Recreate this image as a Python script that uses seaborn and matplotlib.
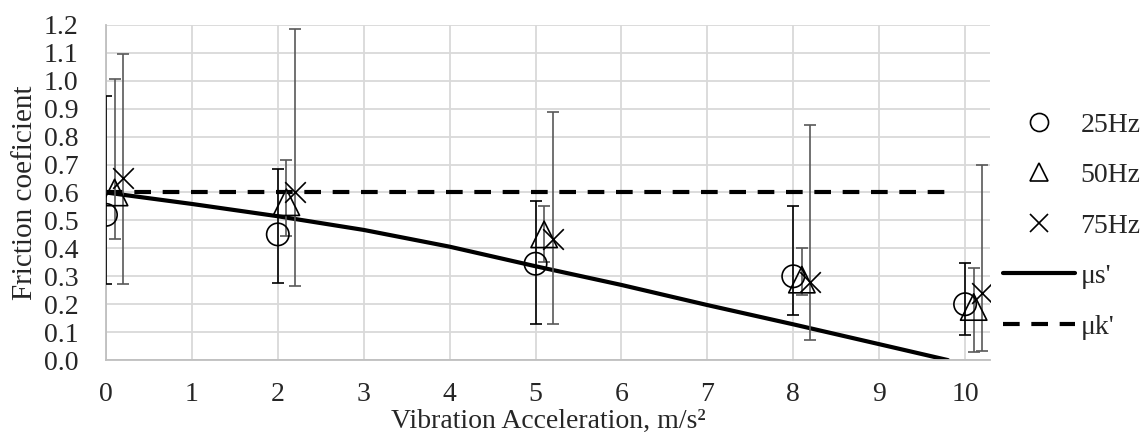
import numpy as np
import pandas as pd
import matplotlib
matplotlib.use("Agg")
import matplotlib.pyplot as plt
import seaborn as sns
from matplotlib.lines import Line2D

# measured friction coefficient (mean, lower and upper end of the error bar)
accel = [0, 2, 5, 8, 10]

mu_25 = [0.52, 0.45, 0.345, 0.30, 0.20]
lo_25 = [0.272, 0.276, 0.130, 0.161, 0.091]
hi_25 = [0.944, 0.683, 0.571, 0.552, 0.349]

mu_50 = [0.60, 0.565, 0.45, 0.288, 0.19]
lo_50 = [0.433, 0.444, 0.35, 0.234, 0.030]
hi_50 = [1.006, 0.717, 0.552, 0.400, 0.330]

mu_75 = [0.651, 0.603, 0.432, 0.28, 0.239]
lo_75 = [0.272, 0.265, 0.130, 0.072, 0.033]
hi_75 = [1.095, 1.186, 0.889, 0.840, 0.699]

# theoretical curves
mus_x = [0, 1, 2, 3, 4, 5, 6, 7, 8, 9, 9.8]
mus_y = [0.60, 0.559, 0.515, 0.466, 0.406, 0.336, 0.269, 0.197, 0.128, 0.057, 0.0]
muk_x = [0, 9.8]
muk_y = [0.60, 0.60]

sns.set_style("white")
plt.rcParams["font.family"] = ["Liberation Serif", "DejaVu Serif"]
plt.rcParams["font.size"] = 20

fig = plt.figure(figsize=(11.42, 4.37), dpi=100)
ax = fig.add_axes([0.0928, 0.176, 0.7741, 0.767])

series = [
    ("25Hz", mu_25, lo_25, hi_25, "o", 0.0, "black", 260),
    ("50Hz", mu_50, lo_50, hi_50, "^", 0.1, "#595959", 360),
    ("75Hz", mu_75, lo_75, hi_75, "x", 0.2, "#595959", 220),
]

handles = []
for name, mu, lo, hi, mk, off, ecol, size in series:
    xs = np.array(accel) + off
    mu = np.array(mu)
    yerr = [mu - np.array(lo), np.array(hi) - mu]
    ax.errorbar(xs, mu, yerr=yerr, fmt="none", ecolor=ecol, elinewidth=1.2,
                capsize=4, capthick=1.2, zorder=3)
    df = pd.DataFrame({"x": xs, "y": mu})
    if mk == "x":
        sns.scatterplot(data=df, x="x", y="y", marker="x", s=size, color="black",
                        linewidth=1.2, ax=ax, zorder=4)
        handles.append(Line2D([], [], marker="x", ls="none", color="black",
                              markersize=13, markeredgewidth=1.2, label=name))
    else:
        sns.scatterplot(data=df, x="x", y="y", marker=mk, s=size, facecolor="none",
                        edgecolor="black", linewidth=1.2, ax=ax, zorder=4)
        handles.append(Line2D([], [], marker=mk, ls="none", markerfacecolor="none",
                              markeredgecolor="black", markersize=13,
                              markeredgewidth=1.2, label=name))

sns.lineplot(x=mus_x, y=mus_y, color="black", linewidth=3, ax=ax, zorder=2,
             sort=False)
sns.lineplot(x=muk_x, y=muk_y, color="black", linewidth=3, ax=ax, zorder=2,
             dashes=False, linestyle=(0, (4, 2.8)))

handles.append(Line2D([], [], color="black", lw=3, label="μs'"))
handles.append(Line2D([], [], color="black", lw=3, ls=(0, (4, 2.8)), label="μk'"))

ax.set_xlim(0, 10.29)
ax.set_ylim(0, 1.2)
ax.set_xticks(range(0, 11))
ax.set_yticks(np.arange(0, 1.21, 0.1))
ax.set_yticklabels([f"{v:.1f}" for v in np.arange(0, 1.21, 0.1)])
ax.grid(True, color="#d9d9d9", linewidth=1.3)
ax.set_axisbelow(True)
for side in ["top", "right"]:
    ax.spines[side].set_visible(False)
for side in ["left", "bottom"]:
    ax.spines[side].set_color("#bfbfbf")
    ax.spines[side].set_linewidth(1.3)
ax.tick_params(axis="both", length=0)
ax.tick_params(axis="y", pad=20)
ax.tick_params(axis="x", pad=16)

ax.set_xlabel("Vibration Acceleration, m/s²", labelpad=1)
ax.set_ylabel("Friction coeficient", labelpad=4, fontsize=21)

fig.legend(handles=handles, loc="center left", bbox_to_anchor=(0.878, 0.483),
           frameon=False, borderpad=0, borderaxespad=0, handlelength=2.6,
           handletextpad=0.2, labelspacing=0.9, fontsize=20)

fig.savefig("out.png", dpi=100)
